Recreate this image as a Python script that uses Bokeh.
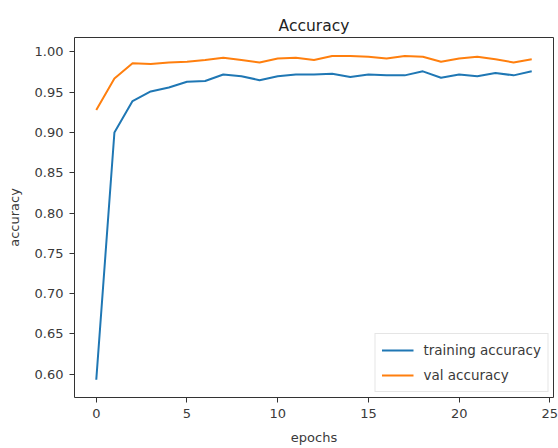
from bokeh.plotting import figure
from bokeh.models import Range1d, FixedTicker, PrintfTickFormatter, Legend, LegendItem
from bokeh.embed import file_html
from bokeh.resources import INLINE

epochs = list(range(25))
train_acc = [0.593, 0.900, 0.939, 0.951, 0.956, 0.963, 0.964, 0.972, 0.970, 0.965,
             0.970, 0.972, 0.972, 0.973, 0.969, 0.972, 0.971, 0.971, 0.976, 0.968,
             0.972, 0.970, 0.974, 0.971, 0.976]
val_acc = [0.928, 0.967, 0.986, 0.985, 0.987, 0.988, 0.990, 0.993, 0.990, 0.987,
           0.992, 0.993, 0.990, 0.995, 0.995, 0.994, 0.992, 0.995, 0.994, 0.988,
           0.992, 0.994, 0.991, 0.987, 0.991]
x_ticks = [0, 5, 10, 15, 20, 25]
y_ticks = [0.60, 0.65, 0.70, 0.75, 0.80, 0.85, 0.90, 0.95, 1.00]

FONT = "DejaVu Sans"
TXT = "#3a3a3a"

p = figure(width=558, height=448, output_backend="svg", toolbar_location=None,
           x_range=Range1d(-1.2, 25.2), y_range=Range1d(0.571, 1.018),
           min_border_left=74, min_border_right=5, min_border_top=37, min_border_bottom=51,
           title="Accuracy")
p.title.align = "center"
p.title.text_font = FONT
p.title.text_font_size = "15.5px"
p.title.text_font_style = "normal"
p.title.text_color = "#222222"
p.title.standoff = 6

p.xgrid.visible = False
p.ygrid.visible = False
p.outline_line_color = "#333333"
p.outline_line_width = 1
p.background_fill_color = "white"
p.border_fill_color = "white"

for ax in (p.xaxis[0], p.yaxis[0]):
    ax.axis_line_color = None
    ax.major_tick_out = 5
    ax.major_tick_in = 0
    ax.minor_tick_line_color = None
    ax.major_tick_line_color = "#333333"
    ax.major_label_text_font = FONT
    ax.major_label_text_font_size = "13px"
    ax.major_label_text_color = TXT
    ax.axis_label_text_font = FONT
    ax.axis_label_text_font_size = "13px"
    ax.axis_label_text_font_style = "normal"
    ax.axis_label_text_color = TXT

p.xaxis.ticker = FixedTicker(ticks=x_ticks)
p.yaxis.ticker = FixedTicker(ticks=y_ticks)
p.yaxis.formatter = PrintfTickFormatter(format="%.2f")
p.xaxis.axis_label = "epochs"
p.yaxis.axis_label = "accuracy"
p.xaxis.major_label_standoff = 6
p.yaxis.major_label_standoff = 6
p.xaxis.axis_label_standoff = 9
p.yaxis.axis_label_standoff = 10

r1 = p.line(epochs, train_acc, line_color="#1f77b4", line_width=2)
r2 = p.line(epochs, val_acc, line_color="#ff7f0e", line_width=2)

legend = Legend(items=[LegendItem(label="training accuracy", renderers=[r1]),
                       LegendItem(label="val accuracy", renderers=[r2])],
                location="bottom_right")
legend.label_text_font = FONT
legend.label_text_font_size = "13.5px"
legend.label_text_color = TXT
legend.border_line_color = "#cccccc"
legend.background_fill_alpha = 0.8
legend.margin = 5
legend.padding = 6
legend.spacing = 5
legend.label_height = 20
legend.glyph_height = 20
legend.glyph_width = 32
legend.label_standoff = 10
p.add_layout(legend)

open("out.html", "w").write(file_html(p, INLINE))
